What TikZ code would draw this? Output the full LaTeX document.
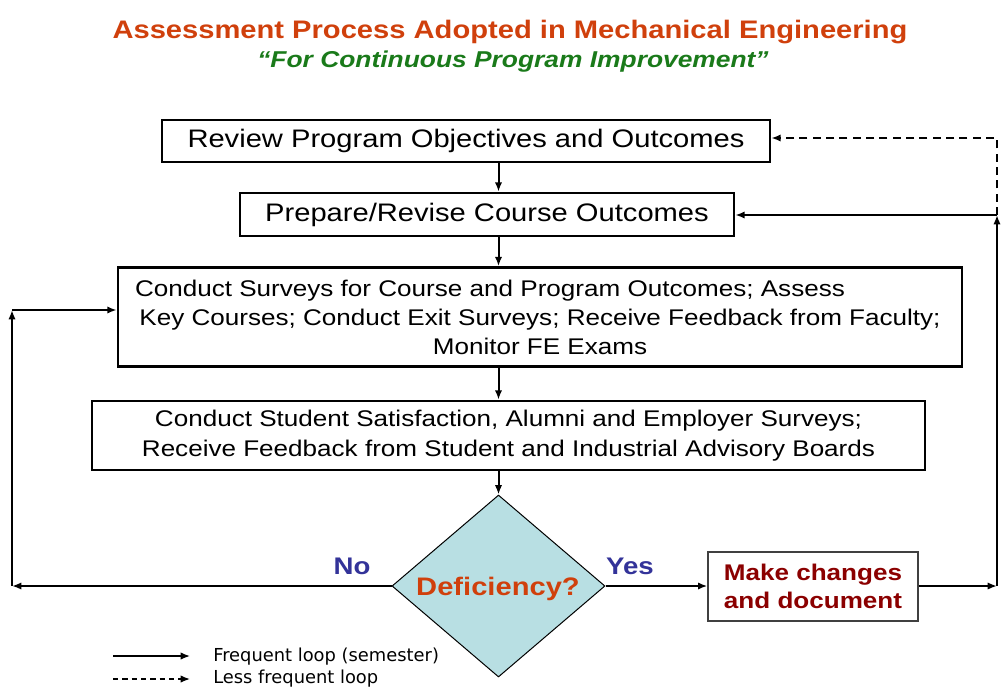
\documentclass[tikz,border=0pt]{standalone}
\usepackage{fontspec}
\setmainfont{Liberation Sans}[FakeStretch=1.15]
\newfontfamily\legendfont{DejaVu Sans}
\usetikzlibrary{shapes.geometric,arrows.meta}

\definecolor{titlered}{HTML}{D0400C}
\definecolor{subgreen}{HTML}{1A7A1A}
\definecolor{answerblue}{HTML}{333399}
\definecolor{changered}{HTML}{8B0000}
\definecolor{decfill}{HTML}{B8DFE3}

\begin{document}
\begin{tikzpicture}[x=0.75pt,y=-0.75pt,>={Latex[length=7pt,width=5.5pt]},
    box/.style={draw, line width=2pt, inner sep=0pt, align=center},
    flow/.style={->, line width=1.5pt},
    rareflow/.style={->, line width=1.5pt, dash pattern=on 6pt off 4pt}]

        \useasboundingbox (0,0) rectangle (1008,690);

        % Title
        \node[font=\bfseries\fontsize{19}{23}\selectfont, text=titlered] (title) at (510,32) {Assessment Process Adopted in Mechanical Engineering};
        \node[font=\bfseries\itshape\fontsize{17.2}{21}\selectfont, text=subgreen] (subtitle) at (513,62) {“For Continuous Program Improvement”};

        % Process boxes
        \node[box, minimum width=456pt, minimum height=31.5pt, font=\fontsize{19}{22}\selectfont] (review) at (466,141) {\raisebox{-2pt}{Review Program Objectives and Outcomes}};
        \node[box, minimum width=370.5pt, minimum height=32.25pt, font=\fontsize{19}{22}\selectfont] (prepare) at (487,214.5) {\raisebox{-2pt}{Prepare/Revise Course Outcomes}};
        \node[box, minimum width=633pt, minimum height=74.25pt, font=\fontsize{17}{21.75}\selectfont] (surveys) at (540,317) {Conduct Surveys for Course and Program Outcomes; Assess\hspace*{75pt}\\ Key Courses; Conduct Exit Surveys; Receive Feedback from Faculty;\\ Monitor FE Exams};
        \node[box, minimum width=624.75pt, minimum height=51.75pt, font=\fontsize{17}{22.5}\selectfont] (boards) at (508.5,435.5) {Conduct Student Satisfaction, Alumni and Employer Surveys;\\ Receive Feedback from Student and Industrial Advisory Boards};

        % Decision and changes
        \node[diamond, draw, line width=0.75pt, fill=decfill, inner sep=0pt, minimum width=159.75pt, minimum height=136.5pt] (deficiency) at (498.5,586) {};
        \node[font=\bfseries\fontsize{19}{22}\selectfont, text=titlered] (deftext) at (498,589) {Deficiency?};
        \node[box, line width=1pt, draw=black!75, minimum width=157.5pt, minimum height=51.75pt, font=\bfseries\fontsize{17}{21}\selectfont, text=changered] (changes) at (813,586.5) {Make changes\\ and document};

        % Answers
        \node[font=\bfseries\fontsize{18}{22}\selectfont, text=answerblue] (no) at (352,566) {No};
        \node[font=\bfseries\fontsize{18}{22}\selectfont, text=answerblue] (yes) at (630,566) {Yes};

        % Loop corners
        \coordinate (nocorner) at (12,586);
        \coordinate (notop) at (12,310);
        \coordinate (yescorner) at (997,586);
        \coordinate (yestop) at (997,215);
        \coordinate (dashtop) at (997,138);

        % Main flow
        \draw[flow] (review.south -| deficiency.north) -- (prepare.north -| deficiency.north);
        \draw[flow] (prepare.south -| deficiency.north) -- (surveys.north -| deficiency.north);
        \draw[flow] (surveys.south -| deficiency.north) -- (boards.north -| deficiency.north);
        \draw[flow] (boards.south -| deficiency.north) -- (deficiency.north);

        % No loop
        \draw[flow] (deficiency.west) -- (nocorner);
        \draw[flow] (nocorner) -- (notop);
        \draw[flow] (notop) -- (notop -| surveys.west);

        % Yes loop
        \draw[flow] (deficiency.east) -- (deficiency.east -| changes.west);
        \draw[flow] (changes.east |- yescorner) -- (yescorner);
        \draw[flow] (yescorner) -- (yestop);
        \draw[flow] (yestop) -- (yestop -| prepare.east);
        \draw[rareflow] (yestop) -- (dashtop) -- (dashtop -| review.east);

        % Legend
        \coordinate (solidA) at (113,656);
        \coordinate (solidB) at (190,656);
        \coordinate (dashA) at (113,679);
        \coordinate (dashB) at (190,679);
        \draw[->, line width=1pt] (solidA) -- (solidB);
        \draw[->, line width=1pt, dash pattern=on 4pt off 3pt] (dashA) -- (dashB);
        \node[anchor=west, inner sep=0pt, font=\legendfont\fontsize{13.4}{15}\selectfont] (solidtext) at (213,657) {Frequent loop (semester)};
        \node[anchor=west, inner sep=0pt, font=\legendfont\fontsize{13.4}{15}\selectfont] (dashtext) at (213,679) {Less frequent loop};

\end{tikzpicture}
\end{document}
